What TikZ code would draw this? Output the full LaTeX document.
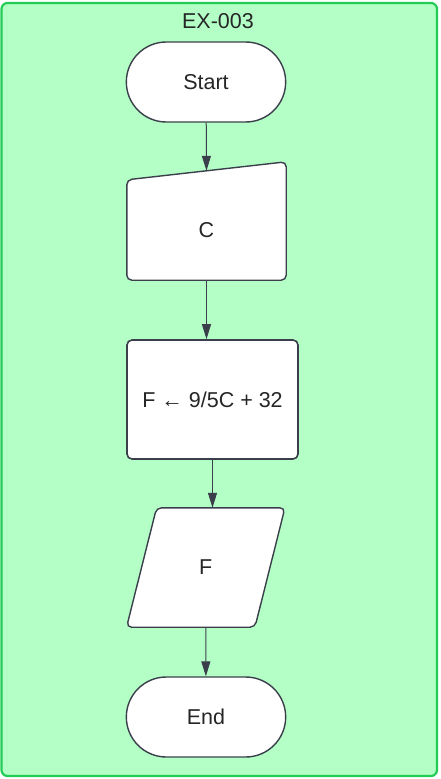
\documentclass[tikz,border=0pt]{standalone}
\usepackage{fontspec}
\setmainfont{Liberation Sans}
\usetikzlibrary{arrows.meta,shapes.misc}
\definecolor{bgfill}{HTML}{B3FFC6}
\definecolor{bgline}{HTML}{22CC55}
\definecolor{shapeline}{HTML}{3A3F4B}

\begin{document}
\begin{tikzpicture}[x=1pt,y=-1pt,
  every node/.style={font=\fontsize{21.5}{25}\selectfont, text=black!85},
  terminal/.style={draw=shapeline, line width=1.4pt, fill=white, rounded rectangle,
    minimum width=166pt, minimum height=80pt},
  procbox/.style={draw=shapeline, line width=1.6pt, fill=white, rounded corners=5pt,
    minimum width=171pt, minimum height=119pt},
  outline/.style={draw=shapeline, line width=1.4pt, fill=white, rounded corners=5pt},
  flow/.style={draw=shapeline, line width=1pt, -{Triangle[width=9pt,length=15pt]}}]
  \useasboundingbox (0,0) rectangle (440,779);
  \draw[bgline, fill=bgfill, line width=2.2pt, rounded corners=6pt] (1.5,3) rectangle (437,776);
  \node (title) at (218,21) {EX-003};
  \node[terminal] (start) at (206,82) {Start};
  \node[minimum width=159pt, minimum height=100pt] (c) at (206.5,230) {};
  \draw[outline] (c.south west) -- (c.north west) -- ([yshift=18pt]c.north east)
    -- (c.south east) -- cycle;
  \node at (c.center) {C};
  \node[procbox] (calc) at (212.5,399.5) {F ← 9/5C + 32};
  \node[minimum width=128pt, minimum height=119pt] (out) at (205.75,567.5) {};
  \draw[outline] ([xshift=-15pt]out.south west) -- ([xshift=15pt]out.north west)
    -- ([xshift=15pt]out.north east) -- ([xshift=-15pt]out.south east) -- cycle;
  \node at (out.center) {F};
  \node[terminal] (end) at (206,717) {End};
  \draw[flow] (start) -- ([yshift=9pt]c.north);
  \draw[flow] (c.south) -- (c.south |- calc.north);
  \draw[flow] (calc.south) -- (calc.south |- out.north);
  \draw[flow] (out.south) -- (end);
\end{tikzpicture}
\end{document}
